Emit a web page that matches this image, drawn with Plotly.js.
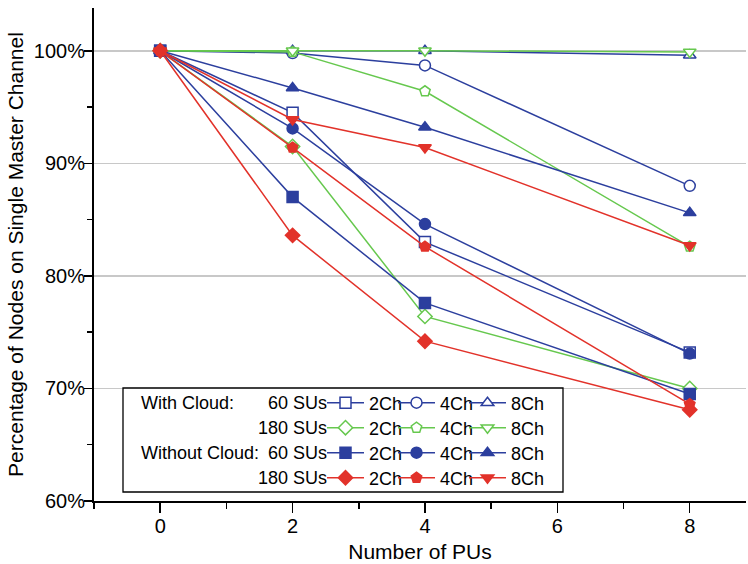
<!DOCTYPE html>
<html><head><meta charset="utf-8">
<script src="https://cdn.plot.ly/plotly-3.0.1.min.js"></script>
<style>html,body{margin:0;padding:0;background:#fff}</style>
</head><body><div id="chart" style="width:748px;height:564px"></div>
<script>
// ---- data ----
const pus = [0, 2, 4, 8];
const wc60_2 = [100, 94.5, 83.0, 73.2];
const wc60_4 = [100, 99.8, 98.7, 88.0];
const wc60_8 = [100, 100, 100, 99.6];
const wc180_2 = [100, 91.5, 76.4, 70.0];
const wc180_4 = [100, 99.9, 96.4, 82.6];
const wc180_8 = [100, 100, 100, 99.9];
const woc60_2 = [100, 87.0, 77.6, 69.5];
const woc60_4 = [100, 93.1, 84.6, 73.1];
const woc60_8 = [100, 96.7, 93.2, 85.6];
const woc180_2 = [100, 83.6, 74.2, 68.1];
const woc180_4 = [100, 91.4, 82.6, 68.6];
const woc180_8 = [100, 93.9, 91.4, 82.7];
const channelNames = ['2Ch', '4Ch', '8Ch'];
const groupLabels = ['With Cloud:', 'Without Cloud:'];
const suLabels = ['60 SUs', '180 SUs', '60 SUs', '180 SUs'];
const yTicks = [60, 70, 80, 90, 100];
const yTickText = ['60%', '70%', '80%', '90%', '100%'];
const xTicks = [0, 2, 4, 6, 8];

// ---- styling ----
const BLUE = '#2c3f9e', GREEN = '#66c84e', RED = '#e2322a';
const FONT = 'Liberation Sans, Arial, Helvetica, sans-serif';
const rows = [
  {series: [wc60_2, wc60_4, wc60_8], color: BLUE, symbols: ['square', 'circle', 'triangle-up'], open: true},
  {series: [wc180_2, wc180_4, wc180_8], color: GREEN, symbols: ['diamond', 'pentagon', 'triangle-down'], open: true},
  {series: [woc60_2, woc60_4, woc60_8], color: BLUE, symbols: ['square', 'circle', 'triangle-up'], open: false},
  {series: [woc180_2, woc180_4, woc180_8], color: RED, symbols: ['diamond', 'pentagon', 'triangle-down'], open: false}
];
const legendIds = ['legend', 'legend2', 'legend3', 'legend4'];

const L = 94, R = 2, T = 8, B = 63, W = 748, H = 564;
const pw = W - L - R, ph = H - T - B;
const px2x = p => (p - L) / pw;
const py2y = p => (H - B - p) / ph;
const rowPy = [403, 428, 453, 478];
const LFS = 18;

const traces = [];
rows.forEach((r, ri) => {
  r.series.forEach((ys, ci) => {
    const t = {
      type: 'scatter', mode: 'lines+markers', x: pus, y: ys,
      name: channelNames[ci], legend: legendIds[ri],
      line: {color: r.color, width: 1.5},
      marker: {symbol: r.symbols[ci], size: 11,
               color: r.open ? '#ffffff' : r.color,
               line: {color: r.color, width: 1.5}},
      hoverinfo: 'x+y'
    };
    if (ci === 2) t.legendwidth = 45;
    traces.push(t);
  });
});

const layout = {
  width: W, height: H,
  margin: {l: L, r: R, t: T, b: B},
  paper_bgcolor: '#ffffff', plot_bgcolor: '#ffffff',
  font: {family: FONT, size: 20, color: '#000'},
  showlegend: true,
  xaxis: {
    range: [-1, 8.85], tickvals: xTicks, ticks: 'outside', ticklen: 10, tickwidth: 1.5, tickcolor: '#000',
    showline: true, linecolor: '#000', linewidth: 2, showgrid: false, zeroline: false,
    tickfont: {size: 20}, ticklabelstandoff: -4,
    minor: {tickvals: [-1, 1, 3, 5, 7], ticks: 'outside', ticklen: 6, tickwidth: 1.5, tickcolor: '#000', showgrid: false},
    title: {text: 'Number of PUs', font: {size: 21}, standoff: 8}
  },
  yaxis: {
    range: [60, 103.8], tickvals: yTicks, ticktext: yTickText, ticks: 'outside', ticklen: 8, tickwidth: 1.5, tickcolor: '#000',
    showline: true, linecolor: '#000', linewidth: 2, showgrid: true, gridcolor: '#c8c8c8', gridwidth: 1.5, zeroline: false,
    tickfont: {size: 20}, ticklabelstandoff: -5,
    minor: {tickvals: [65, 75, 85, 95], ticks: 'outside', ticklen: 5, tickwidth: 1.5, tickcolor: '#000', showgrid: false},
    title: {text: 'Percentage of Nodes on Single Master Channel', font: {size: 21}, standoff: 4}
  },
  shapes: [{type: 'rect', xref: 'paper', yref: 'paper', x0: px2x(123), x1: px2x(563), y0: py2y(492), y1: py2y(388),
            line: {color: '#000', width: 1.3}, fillcolor: '#ffffff', layer: 'above'}],
  annotations: []
};
legendIds.forEach((id, i) => {
  layout[id] = {x: px2x(322), xanchor: 'left', y: py2y(rowPy[i]), yanchor: 'middle', orientation: 'h',
                bgcolor: 'rgba(0,0,0,0)', borderwidth: 0, font: {family: FONT, size: LFS, color: '#000'},
                itemwidth: 37, entrywidth: 19, entrywidthmode: 'pixels', traceorder: 'normal',
                itemclick: false, itemdoubleclick: false};
});
groupLabels.forEach((g, i) => {
  layout.annotations.push({text: g, xref: 'paper', yref: 'paper', x: px2x(139), y: py2y(rowPy[i * 2]),
    xanchor: 'left', yanchor: 'middle', showarrow: false, font: {family: FONT, size: LFS, color: '#000'}});
});
suLabels.forEach((s, i) => {
  layout.annotations.push({text: s, xref: 'paper', yref: 'paper', x: px2x(329), y: py2y(rowPy[i]),
    xanchor: 'right', yanchor: 'middle', showarrow: false, font: {family: FONT, size: LFS, color: '#000'}});
});

Plotly.newPlot('chart', traces, layout, {displayModeBar: false, staticPlot: true});
</script></body></html>
